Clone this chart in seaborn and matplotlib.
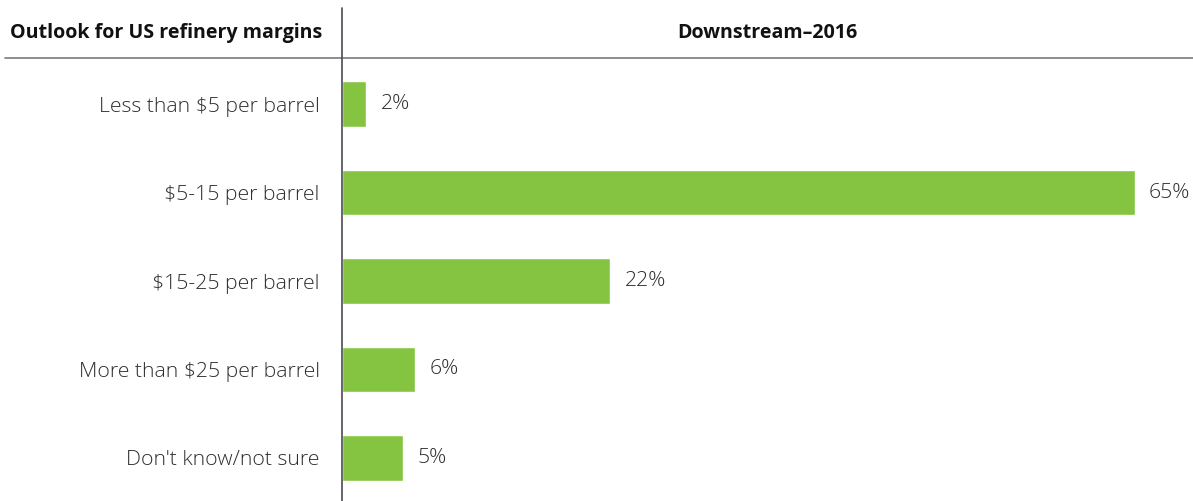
import matplotlib
matplotlib.use("Agg")
import matplotlib.pyplot as plt
from matplotlib.lines import Line2D
import seaborn as sns
import pandas as pd

categories = [
    "Less than $5 per barrel",
    "$5-15 per barrel",
    "$15-25 per barrel",
    "More than $25 per barrel",
    "Don't know/not sure",
]
values = [2, 65, 22, 6, 5]
row_header = "Outlook for US refinery margins"
col_header = "Downstream\u20132016"

sns.set_theme(style="white")
plt.rcParams["font.family"] = ["Open Sans", "DejaVu Sans"]

W, H = 1193, 501
fig = plt.figure(figsize=(W / 100, H / 100), dpi=100)
ax = fig.add_axes([342 / W, 0, 1 - 342 / W, 443 / H])

df = pd.DataFrame({"category": categories, "value": values})
sns.barplot(data=df, x="value", y="category", orient="h", color="#84C441",
            width=0.51, saturation=1, ax=ax)

ax.set_xlim(0, 851 / 12.2)
ax.set_ylim(4.486, -0.52)
ax.set_xlabel("")
ax.set_ylabel("")
ax.set_xticks([])
ax.set_yticks(range(len(categories)))
ax.set_yticklabels(categories, fontsize=15.3, color="#2e2e2e", fontweight="light")
ax.tick_params(axis="y", length=0, pad=16)
for s in ax.spines.values():
    s.set_visible(False)

for i, v in enumerate(values):
    ax.text(v + 1.15, i, f"{v}%", va="center", ha="left", fontsize=15.3,
            color="#2e2e2e", fontweight="light")

# header rule and column divider
fig.add_artist(Line2D([5 / W, 1], [1 - 58 / H, 1 - 58 / H], color="#7a7a7a", lw=1.2))
fig.add_artist(Line2D([342 / W, 342 / W], [0, 1 - 8 / H], color="#4a4a55", lw=1.2))

fig.text(10 / W, 1 - 33 / H, row_header, ha="left", va="center", fontsize=14.1,
         fontweight="bold", color="#111111")
fig.text(767 / W, 1 - 33 / H, col_header, ha="center", va="center", fontsize=14.1,
         fontweight="bold", color="#111111")

fig.savefig("out.png", dpi=100)
